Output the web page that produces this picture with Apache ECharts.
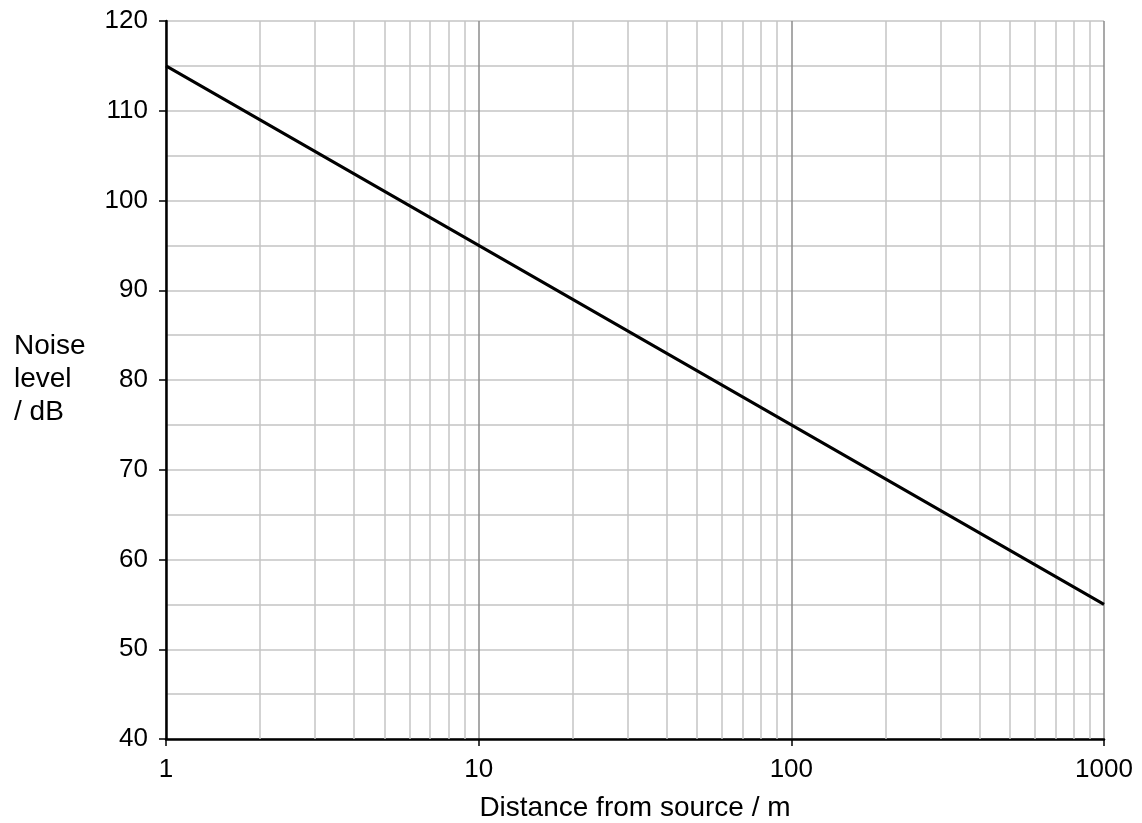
<!DOCTYPE html>
<html>
<head>
<meta charset="utf-8">
<script src="https://cdn.jsdelivr.net/npm/echarts@6/dist/echarts.min.js"></script>
<style>
  html, body { margin: 0; padding: 0; background: #fff; }
  #chart { width: 1142px; height: 823px; }
</style>
</head>
<body>
<div id="chart"></div>
<script>
// distance (m) and noise level (dB)
const distances = [1, 10, 100, 1000];
const noiseLevels = [115, 95, 75, 55];
// minor log grid positions between decades
const minorGridX = [2, 3, 4, 5, 6, 7, 8, 9, 20, 30, 40, 50, 60, 70, 80, 90, 200, 300, 400, 500, 600, 700, 800, 900];

const chart = echarts.init(document.getElementById('chart'), null, { renderer: 'canvas' });
const font = 'Arial';

const option = {
  backgroundColor: '#fff',
  animation: false,
  grid: { left: 166, right: 38, top: 21, bottom: 84, containLabel: false, outerBoundsMode: 'none' },
  xAxis: {
    type: 'log',
    logBase: 10,
    min: 1,
    max: 1000,
    name: 'Distance from source / m',
    nameLocation: 'middle',
    nameGap: 55,
    nameTextStyle: { fontFamily: font, fontSize: 28, color: '#000' },
    axisLine: { show: true, onZero: false, lineStyle: { color: '#000', width: 2.5 } },
    axisTick: { show: true, length: 7, lineStyle: { color: '#000', width: 1.5 } },
    axisLabel: {
      margin: 18, fontFamily: font, fontSize: 26, color: '#000',
      formatter: v => String(Math.round(v))
    },
    splitLine: { show: true, lineStyle: { color: '#8c8c8c', width: 1.5 } },
    minorTick: { show: false },
    minorSplitLine: { show: false }
  },
  yAxis: {
    type: 'value',
    min: 40,
    max: 120,
    interval: 10,
    axisLine: { show: true, onZero: false, lineStyle: { color: '#000', width: 2.5 } },
    axisTick: { show: true, length: 7, lineStyle: { color: '#000', width: 1.5 } },
    axisLabel: { margin: 18, fontFamily: font, fontSize: 26, color: '#000' },
    splitLine: { show: true, lineStyle: { color: '#c4c4c4', width: 1.5 } },
    minorTick: { show: false, splitNumber: 2 },
    minorSplitLine: { show: true, lineStyle: { color: '#c4c4c4', width: 1.5 } }
  },
  graphic: [{
    type: 'text',
    left: 14,
    top: 330,
    style: {
      text: 'Noise\nlevel\n/ dB',
      fontFamily: font,
      fontSize: 28,
      lineHeight: 33,
      fill: '#000'
    }
  }],
  series: [
    {
      type: 'line',
      z: 1,
      data: [],
      silent: true,
      markLine: {
        silent: true,
        symbol: 'none',
        label: { show: false },
        lineStyle: { color: '#c4c4c4', width: 1.5, type: 'solid' },
        data: minorGridX.map(v => ({ xAxis: v }))
      }
    },
    {
      type: 'line',
      z: 5,
      data: distances.map((d, i) => [d, noiseLevels[i]]),
      showSymbol: false,
      lineStyle: { color: '#000', width: 3 }
    }
  ]
};

chart.setOption(option);
</script>
</body>
</html>
